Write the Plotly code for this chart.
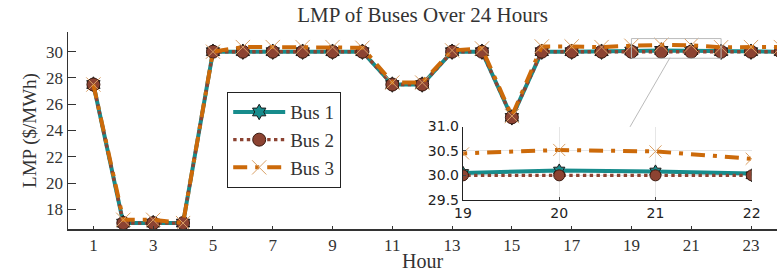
import plotly.graph_objects as go

hours = list(range(1, 25))
bus1 = [27.5, 16.95, 16.95, 16.95, 30.0, 30.0, 30.0, 30.0, 30.0, 30.0, 27.5, 27.5,
        30.0, 30.0, 25.0, 30.0, 30.0, 30.0, 30.05, 30.1, 30.08, 30.0, 30.0, 30.0]
bus2 = [27.5, 16.95, 16.95, 16.95, 30.0, 30.0, 30.0, 30.0, 30.0, 30.0, 27.5, 27.5,
        30.0, 30.0, 25.0, 30.0, 30.0, 30.0, 30.0, 30.0, 30.0, 30.0, 30.0, 30.0]
bus3 = [27.5, 17.2, 17.2, 16.95, 30.0, 30.35, 30.35, 30.35, 30.35, 30.3, 27.65, 27.65,
        30.1, 30.25, 25.1, 30.4, 30.4, 30.35, 30.45, 30.52, 30.49, 30.34, 30.35, 30.35]
names = ["Bus 1", "Bus 2", "Bus 3"]
x_ticks = list(range(1, 24, 2))
y_ticks = [18, 20, 22, 24, 26, 28, 30]
inset_x_ticks = [19, 20, 21, 22]
inset_y_ticks = [29.5, 30.0, 30.5, 31.0]

TEAL = "#178C8C"
BROWN = "#8C4332"
ORANGE = "#CC6A0A"
XCOL = "#D9A066"
SERIF = "Liberation Serif, DejaVu Serif, serif"
SANS = "DejaVu Sans, sans-serif"

fig = go.Figure()

def add_series(xa, ya, showlegend, lw, ms):
    fig.add_trace(go.Scatter(
        x=hours, y=bus1, name=names[0], mode="lines+markers", xaxis=xa, yaxis=ya,
        showlegend=showlegend, legendgroup="b1",
        line=dict(color=TEAL, width=lw),
        marker=dict(symbol="hexagram", size=ms * 0.9, color=TEAL,
                    line=dict(color="#1a1a1a", width=1))))
    fig.add_trace(go.Scatter(
        x=hours, y=bus2, name=names[1], mode="lines+markers", xaxis=xa, yaxis=ya,
        showlegend=showlegend, legendgroup="b2",
        line=dict(color=BROWN, width=lw * 0.85, dash="dot"),
        marker=dict(symbol="circle", size=ms, color=BROWN,
                    line=dict(color="#3a1a10", width=1))))
    fig.add_trace(go.Scatter(
        x=hours, y=bus3, name=names[2], mode="lines+markers", xaxis=xa, yaxis=ya,
        showlegend=showlegend, legendgroup="b3",
        line=dict(color=ORANGE, width=lw, dash="14px,8px,4px,8px"),
        marker=dict(symbol="x-thin", size=ms * 1.1, color=XCOL,
                    line=dict(color=XCOL, width=1))))

add_series("x", "y", True, 4, 13)
add_series("x2", "y2", False, 4, 11)

L, R, T, B = 68, 0, 32, 46
W, H = 777, 275

fig.update_layout(
    width=W, height=H,
    margin=dict(l=L, r=R, t=T, b=B, autoexpand=False),
    paper_bgcolor="white", plot_bgcolor="white",
    hovermode=False,
    font=dict(family=SERIF, size=15, color="#333333"),
    title=dict(text="LMP of Buses Over 24 Hours", x=(L + (W - R)) / 2 / W, xanchor="center",
               y=1 - 15 / H, yanchor="middle", font=dict(size=21, family=SERIF, color="#333333")),
    xaxis=dict(domain=[0, 1], range=[0.15, 23.87], tickvals=x_ticks, showgrid=False, zeroline=False,
               showline=True, linecolor="#333333", linewidth=1.5, ticks="inside", ticklen=3,
               tickcolor="#333333", mirror=False, automargin=False,
               title=dict(text="Hour", standoff=0, font=dict(size=20, family=SERIF)),
               tickfont=dict(size=17, family=SERIF)),
    yaxis=dict(domain=[0, 1], range=[16.5, 31.5], tickvals=y_ticks, showgrid=False, zeroline=False,
               showline=True, linecolor="#333333", linewidth=1.5, ticks="inside", ticklen=8,
               tickcolor="#333333", automargin=False,
               title=dict(text="LMP ($/MWh)", standoff=4, font=dict(size=19, family=SERIF)),
               tickfont=dict(size=17, family=SERIF)),
    xaxis2=dict(domain=[(463 - L) / 709, (751.7 - L) / 709], anchor="y2", range=[19, 22],
                tickvals=inset_x_ticks, showgrid=True, gridcolor="#e6e6e6", zeroline=False,
                showline=True, linecolor="#222222", linewidth=1.2, ticks="inside", ticklen=3,
                automargin=False,
                tickfont=dict(size=14, family=SANS, color="#222222")),
    yaxis2=dict(domain=[(229.3 - 200) / 197.3, (229.3 - 126.7) / 197.3], anchor="x2", range=[29.5, 31.0],
                tickvals=inset_y_ticks, tickformat=".1f", showgrid=True, gridcolor="#e6e6e6",
                zeroline=False, showline=True, linecolor="#222222", linewidth=1.2,
                ticks="inside", ticklen=3, automargin=False,
                tickfont=dict(size=14, family=SANS, color="#222222")),
    legend=dict(x=(227 - L) / 709, y=(229.3 - 92) / 197.3, xanchor="left", yanchor="top",
                bgcolor="white", bordercolor="#222222", borderwidth=1.2,
                font=dict(size=19, family=SERIF, color="#333333"),
                tracegroupgap=0, itemwidth=52),
    showlegend=True,
)

# inset white background
fig.add_shape(type="rect", xref="paper", yref="paper",
              x0=(463 - L) / 709, x1=(751.7 - L) / 709,
              y0=(229.3 - 200) / 197.3, y1=(229.3 - 126.7) / 197.3,
              fillcolor="white", line=dict(width=0), layer="below")
# zoom rectangle on main plot
fig.add_shape(type="rect", xref="x", yref="y", x0=19, x1=22, y0=29.5, y1=31.0,
              line=dict(color="#bbbbbb", width=1))
# connector line
fig.add_shape(type="line", xref="paper", yref="paper",
              x0=(670 - L) / 709, y0=(229.3 - 57.7) / 197.3,
              x1=(630 - L) / 709, y1=(229.3 - 127) / 197.3,
              line=dict(color="#bbbbbb", width=1))

fig.write_html("out.html",
               config={"displayModeBar": False, "staticPlot": True},
               post_script="document.body.style.margin='0';document.body.style.overflow='hidden';")
